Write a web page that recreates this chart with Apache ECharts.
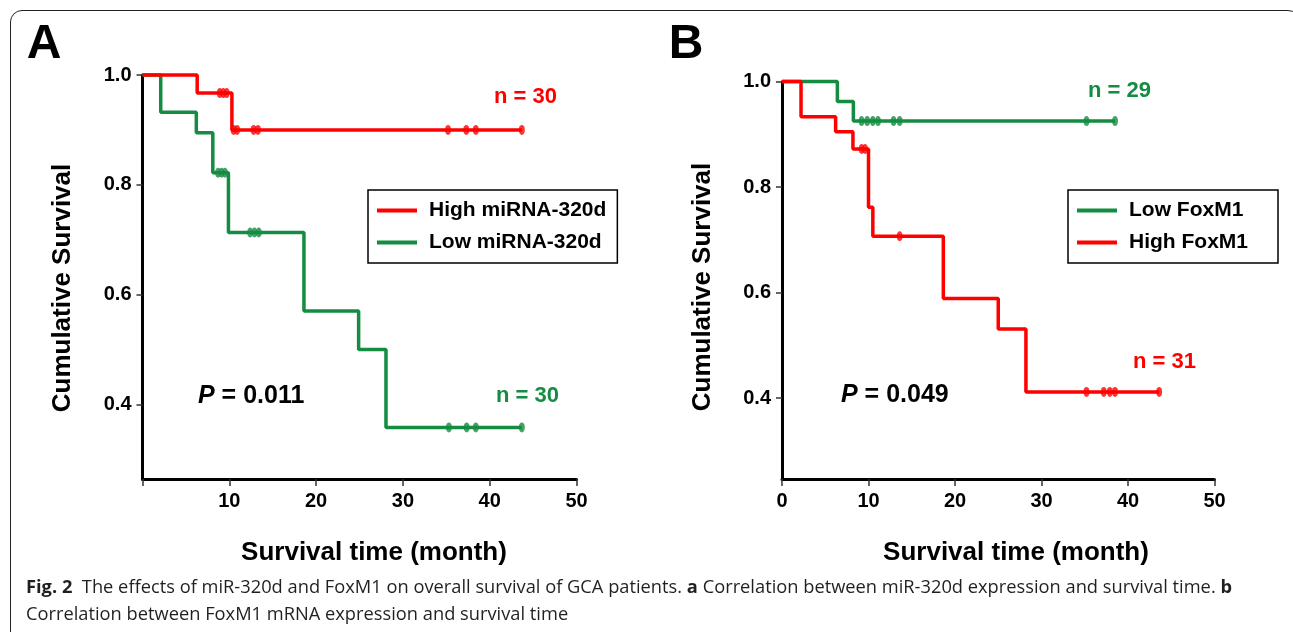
<!DOCTYPE html>
<html><head><meta charset="utf-8">
<script src="https://cdn.jsdelivr.net/npm/echarts@6/dist/echarts.min.js"></script>
<style>
html,body{margin:0;padding:0;width:1293px;height:632px;overflow:hidden;background:#fff;}
#frame{position:absolute;left:10px;top:10px;width:1290px;height:700px;border:1.3px solid #222;border-radius:12px;box-sizing:border-box;}
#chart{position:absolute;left:0;top:0;width:1293px;height:632px;}
.cap{position:absolute;left:26px;font-family:'Open Sans','Noto Sans',sans-serif;font-size:17.5px;line-height:23px;color:#231f20;white-space:nowrap;transform-origin:0 50%;}
</style></head><body>
<div id="frame"></div>
<div id="chart"></div>
<div class="cap" id="cap1" style="top:575px"><b>Fig. 2</b>&nbsp; The effects of miR-320d and FoxM1 on overall survival of GCA patients. <b>a</b> Correlation between miR-320d expression and survival time. <b>b</b></div>
<div class="cap" id="cap2" style="top:602px">Correlation between FoxM1 mRNA expression and survival time</div>
<script>
// ---------- data ----------
// Panel A
const aHighName = 'High miRNA-320d';
const aHighTimes = [0, 6.3, 10.3, 43.7];
const aHighSurv  = [1.0, 0.967, 0.900, 0.900];
const aHighCens  = [8.9, 9.3, 9.7, 10.5, 10.9, 12.8, 13.3, 35.2, 37.3, 38.4, 43.7];

const aLowName = 'Low miRNA-320d';
const aLowTimes = [0, 2.1, 6.2, 8.1, 9.9, 18.6, 24.9, 28.05, 43.7];
const aLowSurv  = [1.0, 0.932, 0.895, 0.822, 0.713, 0.570, 0.500, 0.358, 0.358];
const aLowCens  = [8.7, 9.1, 9.5, 12.4, 12.9, 13.4, 35.3, 37.35, 38.4, 43.7];

// Panel B
const bLowName = 'Low FoxM1';
const bLowTimes = [0, 6.4, 8.25, 38.5];
const bLowSurv  = [1.0, 0.962, 0.925, 0.925];
const bLowCens  = [9.2, 9.85, 10.5, 11.1, 12.9, 13.6, 35.2, 38.5];

const bHighName = 'High FoxM1';
const bHighTimes = [0, 2.2, 6.2, 8.2, 10.0, 10.5, 18.65, 25.0, 28.2, 43.6];
const bHighSurv  = [1.0, 0.933, 0.905, 0.872, 0.762, 0.707, 0.589, 0.531, 0.412, 0.412];
const bHighCens  = [9.2, 9.6, 13.6, 35.2, 37.2, 37.9, 38.5, 43.6];

const yTickValues = [0.4, 0.6, 0.8, 1.0];
const xTickValuesA = [10, 20, 30, 40, 50];
const xTickValuesB = [0, 10, 20, 30, 40, 50];

const pTextA = '0.011', pTextB = '0.049';
const nHighA = 30, nLowA = 30, nLowB = 29, nHighB = 31;

// ---------- styling ----------
const RED = '#FF0000', GREEN = '#148C41';
const FONT = "'Liberation Sans', Arial, sans-serif";

function stepData(times, surv) { return times.map((t, i) => [t, surv[i]]); }
function survAt(times, surv, t) {
  let v = surv[0];
  for (let i = 0; i < times.length; i++) if (times[i] <= t) v = surv[i];
  return v;
}
function censData(times, surv, cens) { return cens.map(t => [t, survAt(times, surv, t)]); }

function kmSeries(name, times, surv, cens, color, axis, z) {
  return [
    { type: 'line', name: name, xAxisIndex: axis, yAxisIndex: axis, step: 'end',
      data: stepData(times, surv), symbol: 'none', showSymbol: false, clip: false,
      lineStyle: { color: color, width: 3.5 }, itemStyle: { color: color }, z: z, animation: false },
    { type: 'scatter', name: name + ' censored', xAxisIndex: axis, yAxisIndex: axis,
      data: censData(times, surv, cens), symbol: 'circle', symbolSize: [6, 10], clip: false,
      itemStyle: { color: color }, z: z, animation: false }
  ];
}

function xAxisCfg(idx, labels) {
  return {
    gridIndex: idx, type: 'value', min: 0, max: 50, interval: 10,
    axisLine: { show: true, onZero: false, lineStyle: { color: '#000', width: 3 } },
    axisTick: { show: true, length: 7, lineStyle: { color: '#333', width: 1.5 } },
    axisLabel: { customValues: labels, fontFamily: FONT, fontSize: 20, fontWeight: 'bold', color: '#000', margin: 12 },
    splitLine: { show: false }
  };
}
function yAxisCfg(idx, min) {
  return {
    gridIndex: idx, type: 'value', min: min, max: 1.0,
    axisLine: { show: true, onZero: false, lineStyle: { color: '#000', width: 3 } },
    axisTick: { show: true, customValues: yTickValues, length: 6, lineStyle: { color: '#333', width: 1.5 } },
    axisLabel: { customValues: yTickValues, formatter: v => v.toFixed(1), fontFamily: FONT, fontSize: 20, fontWeight: 'bold', color: '#000', margin: 11 },
    splitLine: { show: false }
  };
}
function legendCfg(names, left, top, padRight) {
  return {
    data: names, left: left, top: top, orient: 'vertical', icon: 'rect',
    itemWidth: 40, itemHeight: 4, itemGap: 11, padding: [10, padRight, 10, 9],
    borderColor: '#000', borderWidth: 1.5, selectedMode: false,
    textStyle: { fontFamily: FONT, fontSize: 21, fontWeight: 'bold', color: '#000', padding: [0, 0, 0, 7] }
  };
}
function txt(x, y, text, size, color, align, extra) {
  return Object.assign({ type: 'text', x: x, y: y, silent: true,
    style: { text: text, fontFamily: FONT, fontSize: size, fontWeight: 'bold', fill: color,
      align: align || 'left', verticalAlign: 'middle' } }, extra || {});
}
function pText(x, y, val) {
  return { type: 'text', x: x, y: y, silent: true,
    style: { text: '{i|P}{n| = ' + val + '}', verticalAlign: 'middle', align: 'left',
      rich: { i: { fontFamily: FONT, fontSize: 25, fontWeight: 'bold', fontStyle: 'italic', fill: '#000' },
              n: { fontFamily: FONT, fontSize: 25, fontWeight: 'bold', fill: '#000' } } } };
}

const chart = echarts.init(document.getElementById('chart'), null, { renderer: 'canvas' });
chart.setOption({
  animation: false,
  grid: [
    { left: 142.5, top: 75, width: 434, height: 404 },
    { left: 782, top: 81.5, width: 432.5, height: 397.5 }
  ],
  xAxis: [xAxisCfg(0, xTickValuesA), xAxisCfg(1, xTickValuesB)],
  yAxis: [yAxisCfg(0, 0.264), yAxisCfg(1, 0.247)],
  legend: [legendCfg([aHighName, aLowName], 368, 190, 11), legendCfg([bLowName, bHighName], 1068, 190, 30)],
  series: [].concat(
    kmSeries(aLowName, aLowTimes, aLowSurv, aLowCens, GREEN, 0, 2),
    kmSeries(aHighName, aHighTimes, aHighSurv, aHighCens, RED, 0, 3),
    kmSeries(bLowName, bLowTimes, bLowSurv, bLowCens, GREEN, 1, 2),
    kmSeries(bHighName, bHighTimes, bHighSurv, bHighCens, RED, 1, 3)
  ),
  graphic: [
    txt(44, 45, 'A', 48, '#000', 'center'),
    txt(686, 45, 'B', 48, '#000', 'center'),
    txt(63, 288, 'Cumulative Survival', 26, '#000', 'center', { rotation: Math.PI / 2 }),
    txt(703, 287, 'Cumulative Survival', 26, '#000', 'center', { rotation: Math.PI / 2 }),
    txt(374, 553, 'Survival time (month)', 26, '#000', 'center'),
    txt(1016, 553, 'Survival time (month)', 26, '#000', 'center'),
    txt(494, 97, 'n = ' + nHighA, 22, RED),
    txt(496, 396, 'n = ' + nLowA, 22, GREEN),
    txt(1088, 91, 'n = ' + nLowB, 22, GREEN),
    txt(1133, 362, 'n = ' + nHighB, 22, RED),
    pText(198, 396, pTextA),
    pText(841, 395, pTextB)
  ]
});

// fit caption width to reference line length
(function () {
  const c1 = document.getElementById('cap1'), c2 = document.getElementById('cap2');
  const w = c1.getBoundingClientRect().width;
  const s = 1206 / w;
  c1.style.transform = 'scaleX(' + s + ')';
  c2.style.transform = 'scaleX(' + s + ')';
})();
</script>
</body></html>
